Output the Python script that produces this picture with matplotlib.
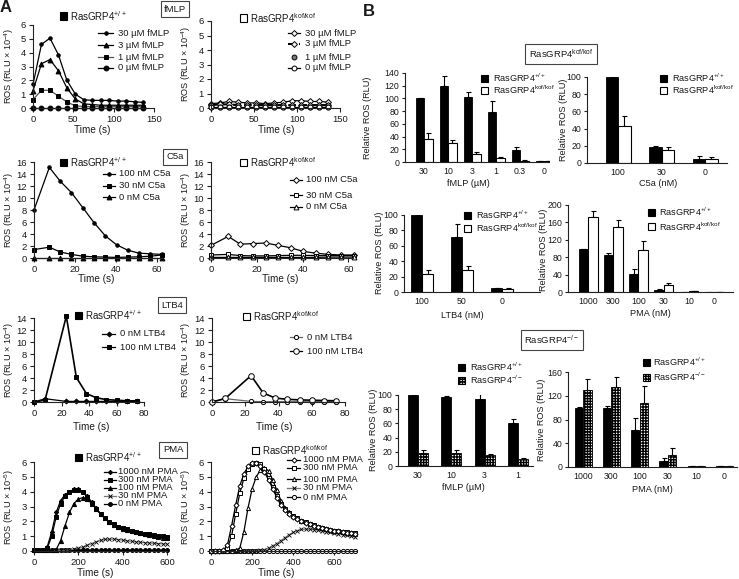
import numpy as np
import matplotlib
matplotlib.use('Agg')
import matplotlib.pyplot as plt
from matplotlib.patches import Rectangle
from matplotlib.lines import Line2D

plt.rcParams['font.family'] = ['Liberation Sans', 'DejaVu Sans']
plt.rcParams['mathtext.fontset'] = 'custom'
plt.rcParams['mathtext.rm'] = 'Liberation Sans'
plt.rcParams['mathtext.it'] = 'Liberation Sans:italic'
plt.rcParams['mathtext.bf'] = 'Liberation Sans:bold'
plt.rcParams['mathtext.default'] = 'regular'
plt.rcParams['hatch.linewidth'] = 1.0

# ---------------- data: panel A (time courses) ----------------
t_fmlp = [0, 10.5, 21, 31.5, 42, 52.5, 63, 73.5, 84, 94.5, 105, 115.5, 126, 136.5]
fmlp_wt_30 = [1.7, 4.6, 5.05, 3.85, 2.0, 1.0, 0.6, 0.55, 0.55, 0.55, 0.5, 0.5, 0.45, 0.4]
fmlp_wt_3 = [1.25, 3.2, 3.5, 2.7, 1.45, 0.65, 0.3, 0.25, 0.2, 0.2, 0.2, 0.2, 0.2, 0.2]
fmlp_wt_1 = [0.6, 1.28, 1.28, 0.85, 0.44, 0.15, 0.12, 0.1, 0.1, 0.1, 0.1, 0.1, 0.1, 0.1]
fmlp_wt_0 = [0.02, 0.02, 0.02, 0.02, 0.02, 0.02, 0.02, 0.02, 0.02, 0.02, 0.02, 0.02, 0.02, 0.02]
fmlp_kof_30 = [0.3, 0.35, 0.45, 0.4, 0.35, 0.35, 0.3, 0.35, 0.4, 0.5, 0.5, 0.45, 0.45, 0.4]
fmlp_kof_3 = [0.2, 0.25, 0.25, 0.2, 0.2, 0.2, 0.2, 0.2, 0.2, 0.2, 0.2, 0.2, 0.2, 0.2]
fmlp_kof_1 = [0.1, 0.1, 0.1, 0.1, 0.1, 0.1, 0.1, 0.1, 0.1, 0.1, 0.1, 0.1, 0.1, 0.1]
fmlp_kof_0 = [0.05, 0.05, 0.05, 0.05, 0.05, 0.05, 0.05, 0.05, 0.05, 0.05, 0.05, 0.05, 0.05, 0.05]

t_c5a = [0, 7.5, 12.8, 18.3, 23.8, 29.3, 34.8, 40.3, 45.8, 51.3, 56.8, 62.3]
c5a_wt_100 = [8.0, 15.1, 12.8, 10.9, 8.4, 5.9, 3.7, 2.2, 1.3, 0.8, 0.7, 0.6]
c5a_wt_30 = [1.4, 1.8, 1.0, 0.6, 0.3, 0.2, 0.15, 0.1, 0.15, 0.2, 0.3, 0.5]
c5a_wt_0 = [0.05, 0.05, 0.05, 0.05, 0.05, 0.05, 0.05, 0.05, 0.05, 0.05, 0.05, 0.05]
c5a_kof_100 = [2.1, 3.6, 2.3, 2.4, 2.5, 2.1, 1.7, 1.1, 0.8, 0.6, 0.5, 0.5]
c5a_kof_30 = [0.5, 0.6, 0.4, 0.35, 0.35, 0.4, 0.45, 0.45, 0.4, 0.4, 0.4, 0.4]
c5a_kof_0 = [0.1, 0.1, 0.1, 0.1, 0.1, 0.1, 0.1, 0.1, 0.1, 0.15, 0.15, 0.15]

t_ltb4 = [0, 8, 23.5, 30.8, 38.1, 45.4, 52.7, 60, 67.3, 74.6]
ltb4_wt_0 = [0, 0.55, 0.1, 0.1, 0.1, 0.1, 0.1, 0.1, 0.1, 0.1]
ltb4_wt_100 = [0, 0.3, 14.3, 4.1, 1.4, 0.7, 0.4, 0.3, 0.2, 0.2]
ltb4_kof_0 = [0, 0.55, 0.1, 0.05, 0.05, 0.05, 0.05, 0.05, 0.05, 0.05]
ltb4_kof_100 = [0, 0.6, 4.4, 1.5, 0.65, 0.45, 0.35, 0.3, 0.25, 0.2]

t_pma_wt = [0, 20, 40, 60, 80, 100, 120, 140, 160, 180, 200, 220, 240, 260, 280, 300,
            320, 340, 360, 380, 400, 420, 440, 460, 480, 500, 520, 540, 560, 580, 600]
pma_wt_1000 = [0.05, 0.05, 0.05, 0.3, 1.3, 2.6, 3.4, 3.8, 4.0, 4.15, 4.15, 4.0, 3.7, 3.3, 2.9, 2.5,
               2.2, 1.98, 1.8, 1.65, 1.52, 1.42, 1.33, 1.26, 1.2, 1.14, 1.09, 1.05, 1.01, 0.98, 0.95]
pma_wt_300 = [0.05, 0.05, 0.05, 0.2, 1.0, 2.3, 3.2, 3.7, 4.0, 4.1, 4.1, 3.95, 3.65, 3.25, 2.85, 2.5,
              2.2, 1.97, 1.8, 1.65, 1.55, 1.45, 1.37, 1.3, 1.23, 1.17, 1.12, 1.07, 1.03, 0.99, 0.92]
pma_wt_100 = [0.05, 0.05, 0.05, 0.05, 0.05, 0.1, 0.7, 1.7, 2.6, 3.2, 3.5, 3.6, 3.5, 3.2, 2.85, 2.5,
              2.2, 1.95, 1.78, 1.62, 1.5, 1.4, 1.32, 1.25, 1.18, 1.12, 1.06, 1.01, 0.96, 0.9, 0.85]
pma_wt_30 = [0.05, 0.05, 0.05, 0.05, 0.05, 0.05, 0.05, 0.05, 0.08, 0.12, 0.18, 0.27, 0.38, 0.5, 0.62, 0.72,
             0.78, 0.8, 0.8, 0.77, 0.73, 0.69, 0.65, 0.62, 0.59, 0.56, 0.54, 0.52, 0.5, 0.48, 0.47]
pma_wt_0 = [0.05, 0.05, 0.05, 0.05, 0.05, 0.05, 0.05, 0.05, 0.05, 0.05, 0.05, 0.05, 0.05, 0.05, 0.05, 0.05,
            0.05, 0.05, 0.05, 0.05, 0.05, 0.05, 0.05, 0.05, 0.05, 0.05, 0.05, 0.05, 0.05, 0.05, 0.05]

t_pma_kof = [0, 20, 40, 60, 80, 100, 120, 140, 160, 180, 200, 220, 240, 260, 280, 300, 320, 340,
             360, 380, 400, 420, 440, 460, 480, 500, 520, 540, 560, 580, 600, 620, 640, 660, 680, 700]
pma_kof_1000 = [0.02, 0.02, 0.02, 0.05, 0.4, 1.7, 3.1, 4.4, 5.2, 5.7, 5.95, 5.95, 5.7, 5.3, 4.8, 4.2, 3.6, 3.1,
                2.75, 2.5, 2.3, 2.15, 2.0, 1.9, 1.8, 1.7, 1.62, 1.55, 1.48, 1.42, 1.37, 1.32, 1.28, 1.24, 1.2, 1.17]
pma_kof_300 = [0.02, 0.02, 0.02, 0.03, 0.2, 1.0, 2.5, 3.9, 4.9, 5.5, 5.85, 5.95, 5.85, 5.5, 4.9, 4.3, 3.7, 3.2,
               2.8, 2.55, 2.35, 2.2, 2.05, 1.93, 1.82, 1.73, 1.65, 1.57, 1.5, 1.44, 1.38, 1.33, 1.29, 1.25, 1.21, 1.18]
pma_kof_100 = [0.02, 0.02, 0.02, 0.02, 0.02, 0.02, 0.05, 0.2, 1.3, 2.9, 4.2, 5.0, 5.45, 5.6, 5.4, 4.8, 4.1, 3.4,
               2.9, 2.6, 2.35, 2.2, 2.05, 1.93, 1.82, 1.72, 1.64, 1.56, 1.49, 1.43, 1.37, 1.32, 1.27, 1.23, 1.19, 1.15]
pma_kof_30 = [0.02, 0.02, 0.02, 0.02, 0.02, 0.02, 0.02, 0.02, 0.02, 0.02, 0.02, 0.02, 0.05, 0.1, 0.2, 0.35, 0.5, 0.7,
              0.9, 1.1, 1.25, 1.38, 1.45, 1.48, 1.47, 1.44, 1.4, 1.35, 1.3, 1.25, 1.2, 1.15, 1.1, 1.05, 1.0, 0.95]
pma_kof_0 = [0.02, 0.02, 0.02, 0.02, 0.02, 0.02, 0.02, 0.02, 0.02, 0.02, 0.02, 0.02, 0.02, 0.02, 0.02, 0.02, 0.02, 0.02,
             0.02, 0.02, 0.02, 0.02, 0.02, 0.02, 0.02, 0.02, 0.02, 0.02, 0.02, 0.02, 0.02, 0.02, 0.02, 0.02, 0.02, 0.02]

# ---------------- data: panel B (bars) ----------------
b1_cats = ['30', '10', '3', '1', '0.3', '0']
b1_wt = [100, 120, 102, 79, 19, 1]
b1_wt_err = [0, 15, 8, 17, 5, 0]
b1_kof = [36, 30, 13, 7, 2, 1]
b1_kof_err = [10, 5, 2, 1, 1, 0]

b2_cats = ['100', '30', '0']
b2_wt = [100, 19, 5]
b2_wt_err = [0, 1, 3]
b2_kof = [43, 15, 5]
b2_kof_err = [12, 4, 2]

b3_cats = ['100', '50', '0']
b3_wt = [100, 72, 5]
b3_wt_err = [1, 16, 0]
b3_kof = [24, 28, 4]
b3_kof_err = [4, 6, 1]

b4_cats = ['1000', '300', '100', '30', '10', '0']
b4_wt = [98, 85, 42, 5, 1, 0.5]
b4_wt_err = [2, 5, 12, 3, 0, 0]
b4_kof = [172, 150, 96, 15, 1.5, 0.5]
b4_kof_err = [15, 15, 22, 5, 0, 0]

b5_cats = ['30', '10', '3', '1']
b5_wt = [100, 97, 95, 61]
b5_wt_err = [0, 2, 6, 5]
b5_ko = [19, 18, 16, 10]
b5_ko_err = [4, 4, 1, 1]

b6_cats = ['1000', '300', '100', '30', '10', '0']
b6_wt = [100, 100, 63, 10, 2, 1]
b6_wt_err = [1, 3, 20, 5, 0, 0]
b6_ko = [130, 134, 108, 20, 2, 1]
b6_ko_err = [18, 18, 28, 12, 0, 0]

# ---------------- figure helpers ----------------
W, H = 739, 579
TXT = '#1a1a1a'
fig = plt.figure(figsize=(W / 100, H / 100), dpi=100)


def fx(x):
    return x / W


def fy(y):
    return 1 - y / H


def make_ax(x0, x1, ytop, ybot, labelsize=6.8, pad=2.2, length=3):
    ax = fig.add_axes([fx(x0), fy(ybot), (x1 - x0) / W, (ybot - ytop) / H])
    for s in ['top', 'right']:
        ax.spines[s].set_visible(False)
    for s in ['left', 'bottom']:
        ax.spines[s].set_linewidth(0.8)
        ax.spines[s].set_color('#222')
    ax.tick_params(direction='out', length=length, width=0.8, labelsize=labelsize, pad=pad,
                   colors='#222', labelcolor=TXT)
    ax.patch.set_visible(False)
    return ax


def ftext(x, y, s, **kw):
    kw.setdefault('fontsize', 7.2)
    kw.setdefault('color', TXT)
    kw.setdefault('ha', 'center')
    kw.setdefault('va', 'center')
    fig.text(fx(x), fy(y), s, **kw)


def square(x, y, fc, size=7, hatch=None):
    r = Rectangle((fx(x), fy(y + size / 2)), size / W, size / H, transform=fig.transFigure,
                  fc=fc, ec='k', lw=0.8, hatch=hatch)
    fig.add_artist(r)


def leg_title(x, y, text, fc, hatch=None, tx=None, fs=7.0):
    square(x, y, fc, hatch=hatch)
    ftext(tx if tx is not None else x + 10, y, text, ha='left', fontsize=fs)


def leg_entry(x0, x1, y, text, tx, marker, mfc, ms=3.5, ls='-', lw=0.9, lc='k'):
    if ls != 'none':
        fig.add_artist(Line2D([fx(x0), fx(x1)], [fy(y), fy(y)], color=lc, lw=lw, ls=ls))
    fig.add_artist(Line2D([fx((x0 + x1) / 2)], [fy(y)], marker=marker, mfc=mfc, mec='k',
                          mew=0.7, ms=ms, ls='none'))
    ftext(tx, y, text, ha='left', fontsize=6.8)


def boxed(x, y, text):
    ftext(x, y, text, fontsize=6.8,
          bbox=dict(boxstyle='square,pad=0.35', fc='white', ec='#444', lw=0.8))


def series(ax, t, y, marker, mfc, ms=3.5, ls='-', lw=0.9, lc='k', mew=0.7):
    ax.plot(t, y, color=lc, lw=lw, ls=ls, marker=marker, mfc=mfc, mec='k', mew=mew, ms=ms,
            clip_on=False)


ros4 = r'ROS (RLU $\times$ 10$^{-4}$)'
ros5 = r'ROS (RLU $\times$ 10$^{-5}$)'
WT = r'RasGRP4$^{+/+}$'
KOF = r'RasGRP4$^{kof/kof}$'
KO = r'RasGRP4$^{-/-}$'
YL_L, YL_R, YFS = 9, 186, 6.6

ftext(6, 8, 'A', fontsize=12, fontweight='bold')
ftext(369, 11, 'B', fontsize=12, fontweight='bold')

# ---------------- A row 1: fMLP ----------------
ax = make_ax(33, 154, 25, 108)
series(ax, t_fmlp, fmlp_wt_30, 'o', 'k', ms=2.5)
series(ax, t_fmlp, fmlp_wt_3, '^', 'k', ms=3.5)
series(ax, t_fmlp, fmlp_wt_1, 's', 'k', ms=3.5, lc='#555')
series(ax, t_fmlp, fmlp_wt_0, 'o', 'k', ms=3.5)
ax.set_xlim(0, 150); ax.set_ylim(0, 6)
ax.set_xticks([0, 50, 100, 150]); ax.set_yticks(range(0, 7))
ftext(92, 130, 'Time (s)')
ftext(YL_L, 66, ros4, rotation=90, fontsize=YFS)
leg_title(60, 16, WT, 'k')
leg_entry(98, 113, 33, '30 µM fMLP', 118, 'o', 'k', ms=2.5)
leg_entry(98, 113, 45, '3 µM fMLP', 118, '^', 'k')
leg_entry(98, 113, 57, '1 µM fMLP', 118, 's', 'k', lc='#555')
leg_entry(98, 113, 68, '0 µM fMLP', 118, 'o', 'k')
boxed(175, 9, 'fMLP')

ax = make_ax(211, 340, 21, 108)
series(ax, t_fmlp, fmlp_kof_30, 'D', 'white', ms=3)
series(ax, t_fmlp, fmlp_kof_3, 'D', 'white', ms=3, ls='--', lw=1.5)
series(ax, t_fmlp, fmlp_kof_1, 'o', '#777', ms=3.5, ls='none')
series(ax, t_fmlp, fmlp_kof_0, 'o', 'white', ms=3.5)
ax.set_xlim(0, 150); ax.set_ylim(0, 6)
ax.set_xticks([0, 50, 100, 150]); ax.set_yticks(range(0, 7))
ftext(276, 130, 'Time (s)')
ftext(YL_R, 64, ros4, rotation=90, fontsize=YFS)
leg_title(240, 18, KOF, 'white')
leg_entry(288, 300, 33, '30 µM fMLP', 305, 'D', 'white', ms=3)
leg_entry(288, 300, 44, '3 µM fMLP', 305, 'D', 'white', ms=3, ls='--', lw=1.5)
leg_entry(288, 300, 57, '1 µM fMLP', 305, 'o', '#777', ls='none')
leg_entry(288, 300, 68, '0 µM fMLP', 305, 'o', 'white')

# ---------------- A row 2: C5a ----------------
ax = make_ax(34, 163, 162, 258)
series(ax, t_c5a, c5a_wt_100, 'o', 'k', ms=2.5)
series(ax, t_c5a, c5a_wt_30, 's', 'k', ms=3.5)
series(ax, t_c5a, c5a_wt_0, '^', 'k', ms=3.5)
ax.set_xlim(0, 63); ax.set_ylim(0, 16)
ax.set_xticks([0, 20, 40, 60]); ax.set_yticks(range(0, 17, 2))
ftext(96, 279, 'Time (s)')
ftext(YL_L, 210, ros4, rotation=90, fontsize=YFS)
leg_title(60, 162, WT, 'k')
leg_entry(103, 115, 174, '100 nM C5a', 119, 'o', 'k', ms=2.5)
leg_entry(103, 115, 186, '30 nM C5a', 119, 's', 'k')
leg_entry(103, 115, 197, '0 nM C5a', 119, '^', 'k')
boxed(175, 157, 'C5a')

ax = make_ax(211, 353, 162, 258)
series(ax, t_c5a, c5a_kof_100, 'D', 'white', ms=3)
series(ax, t_c5a, c5a_kof_30, 's', 'white', ms=3.5)
series(ax, t_c5a, c5a_kof_0, '^', 'white', ms=3.5)
ax.set_xlim(0, 62); ax.set_ylim(0, 16)
ax.set_xticks([0, 20, 40, 60]); ax.set_yticks(range(0, 17, 2))
ftext(280, 279, 'Time (s)')
ftext(YL_R, 210, ros4, rotation=90, fontsize=YFS)
leg_title(240, 162, KOF, 'white')
leg_entry(290, 302, 180, '100 nM C5a', 306, 'D', 'white', ms=3)
leg_entry(290, 302, 195, '30 nM C5a', 306, 's', 'white')
leg_entry(290, 302, 207, '0 nM C5a', 306, '^', 'white')

# ---------------- A row 3: LTB4 ----------------
ax = make_ax(34, 144, 318, 402)
series(ax, t_ltb4, ltb4_wt_0, 'D', 'k', ms=2.5)
series(ax, t_ltb4, ltb4_wt_100, 's', 'k', ms=3.5, lw=1.2)
ax.set_xlim(0, 80); ax.set_ylim(0, 14)
ax.set_xticks([0, 20, 40, 60, 80]); ax.set_yticks(range(0, 15, 2))
ftext(91, 427, 'Time (s)')
ftext(YL_L, 360, ros4, rotation=90, fontsize=YFS)
leg_title(75, 315, WT, 'k')
leg_entry(102, 115, 334, '0 nM LTB4', 120, 'D', 'k', ms=2.5)
leg_entry(102, 115, 347, '100 nM LTB4', 120, 's', 'k')
boxed(172, 305, 'LTB4')

ax = make_ax(212, 345, 318, 402)
series(ax, t_ltb4, ltb4_kof_0, 'o', 'white', ms=3, lc='#666')
series(ax, t_ltb4, ltb4_kof_100, 'o', 'white', ms=4, lw=1.2)
ax.set_xlim(0, 80); ax.set_ylim(0, 14)
ax.set_xticks([0, 20, 40, 60, 80]); ax.set_yticks(range(0, 15, 2))
ftext(274, 427, 'Time (s)')
ftext(YL_R, 360, ros4, rotation=90, fontsize=YFS)
leg_title(243, 316, KOF, 'white')
leg_entry(290, 302, 337, '0 nM LTB4', 307, 'o', 'white', ms=3, lc='#666')
leg_entry(290, 302, 351, '100 nM LTB4', 307, 'o', 'white', ms=4)

# ---------------- A row 4: PMA ----------------
ax = make_ax(34, 167, 462, 551)
series(ax, t_pma_wt, pma_wt_0, 'o', 'k', ms=2.8)
series(ax, t_pma_wt, pma_wt_30, 'x', 'none', ms=3, lc='#777', mew=0.6)
series(ax, t_pma_wt, pma_wt_100, '^', 'k', ms=3)
series(ax, t_pma_wt, pma_wt_300, 's', 'k', ms=3)
series(ax, t_pma_wt, pma_wt_1000, 'D', 'k', ms=2.2)
ax.set_xlim(0, 600); ax.set_ylim(0, 6)
ax.set_xticks([0, 200, 400, 600]); ax.set_yticks(range(0, 7))
ftext(95, 573, 'Time (s)')
ftext(YL_L, 507, ros5, rotation=90, fontsize=YFS)
leg_title(75, 457, WT, 'k')
leg_entry(104, 116, 472, '1000 nM PMA', 118, 'D', 'k', ms=2.2)
leg_entry(104, 116, 480, '300 nM PMA', 118, 's', 'k', ms=3)
leg_entry(104, 116, 488, '100 nM PMA', 118, '^', 'k', ms=3)
leg_entry(104, 116, 496, '30 nM PMA', 118, 'x', 'none', ms=3, lc='#777')
leg_entry(104, 116, 504, '0 nM PMA', 118, 'o', 'k', ms=2.8)
boxed(173, 450, 'PMA')

ax = make_ax(211, 357, 462, 551)
series(ax, t_pma_kof, pma_kof_0, 'o', 'white', ms=3)
series(ax, t_pma_kof, pma_kof_30, 'x', 'none', ms=3, lc='#777', mew=0.6)
series(ax, t_pma_kof, pma_kof_100, '^', 'white', ms=3)
series(ax, t_pma_kof, pma_kof_300, 's', 'white', ms=3.2)
series(ax, t_pma_kof, pma_kof_1000, 'D', 'white', ms=2.6)
ax.set_xlim(0, 710); ax.set_ylim(0, 6)
ax.set_xticks([0, 200, 400, 600]); ax.set_yticks(range(0, 7))
ftext(276, 573, 'Time (s)')
ftext(YL_R, 507, ros5, rotation=90, fontsize=YFS)
leg_title(252, 450, KOF, 'white')
leg_entry(287, 300, 460, '1000 nM PMA', 303, 'D', 'white', ms=2.6)
leg_entry(287, 300, 468, '300 nM PMA', 303, 's', 'white', ms=3.2)
leg_entry(287, 300, 479, '100 nM PMA', 303, '^', 'white', ms=3)
leg_entry(287, 300, 488, '30 nM PMA', 303, 'x', 'none', ms=3, lc='#777')
leg_entry(287, 300, 497, '0 nM PMA', 303, 'o', 'white', ms=3)


# ---------------- panel B ----------------
def bar_panel(x0, x1, ytop, ybot, c0, step, bw, cats, v1, e1, v2, e2, ymax, ystep, ko=False):
    # c0: pixel centre of first group; step: pixel spacing between groups; bw: bar width px
    lo = (x0 - c0) / step
    hi = (x1 - c0) / step
    ax = make_ax(x0, x1, ytop, ybot, labelsize=6.3, pad=1.5, length=2.5)
    pos = np.arange(len(cats))
    w = bw / step
    ax.bar(pos - w / 2, v1, w, color='k', ec='k', lw=0.6, zorder=2)
    if ko:
        ax.bar(pos + w / 2, v2, w, color='white', ec='k', lw=0.6, hatch='++++++', zorder=2)
    else:
        ax.bar(pos + w / 2, v2, w, color='white', ec='k', lw=0.8, zorder=2)
    z = np.zeros(len(cats))
    ax.errorbar(pos - w / 2, v1, yerr=[z, e1], fmt='none', ecolor='k', elinewidth=0.8,
                capsize=1.8, capthick=0.8, zorder=1)
    ax.errorbar(pos + w / 2, v2, yerr=[z, e2], fmt='none', ecolor='k', elinewidth=0.8,
                capsize=1.8, capthick=0.8, zorder=1)
    ax.set_xlim(lo, hi)
    ax.set_ylim(0, ymax)
    ax.set_yticks(np.arange(0, ymax + 1, ystep))
    ax.set_xticks(pos)
    ax.set_xticklabels(cats)
    ax.tick_params(axis='x', length=0, pad=3.5)
    return ax


BFS = 6.6

bar_panel(405, 549, 73, 162, 424, 24, 8.5, b1_cats, b1_wt, b1_wt_err, b1_kof, b1_kof_err, 140, 20)
ftext(468, 183, 'fMLP (µM)', fontsize=BFS)
ftext(367, 118, 'Relative ROS (RLU)', rotation=90, fontsize=BFS)
leg_title(481, 78, WT, 'k', tx=493, fs=BFS)
leg_title(481, 90, KOF, 'white', tx=493, fs=BFS)

bar_panel(587, 727, 77, 163, 618, 43.5, 12.5, b2_cats, b2_wt, b2_wt_err, b2_kof, b2_kof_err, 100, 20)
ftext(658, 183, 'C5a (nM)', fontsize=BFS)
ftext(564, 120, 'Relative ROS (RLU)', rotation=90, fontsize=BFS)
leg_title(660, 78, WT, 'k', tx=672, fs=BFS)
leg_title(660, 90, KOF, 'white', tx=672, fs=BFS)
boxed(561, 54, KOF)

bar_panel(404, 540, 215, 292, 422, 40, 11, b3_cats, b3_wt, b3_wt_err, b3_kof, b3_kof_err, 100, 20)
ftext(462, 315, 'LTB4 (nM)', fontsize=BFS)
ftext(379, 253, 'Relative ROS (RLU)', rotation=90, fontsize=BFS)
leg_title(464, 215, WT, 'k', tx=476, fs=BFS)
leg_title(464, 228, KOF, 'white', tx=476, fs=BFS)

bar_panel(568, 733, 205, 292, 588, 25.2, 9.5, b4_cats, b4_wt, b4_wt_err, b4_kof, b4_kof_err, 200, 40)
ftext(650, 313, 'PMA (nM)', fontsize=BFS)
ftext(543, 250, 'Relative ROS (RLU)', rotation=90, fontsize=BFS)
leg_title(648, 212, WT, 'k', tx=659, fs=BFS)
leg_title(648, 227, KOF, 'white', tx=659, fs=BFS)

bar_panel(398, 533, 395, 466, 418, 33.3, 10, b5_cats, b5_wt, b5_wt_err, b5_ko, b5_ko_err, 100, 20, ko=True)
ftext(463, 488, 'fMLP (µM)', fontsize=BFS)
ftext(373, 430, 'Relative ROS (RLU)', rotation=90, fontsize=BFS)
leg_title(458, 367, WT, 'k', tx=470, fs=BFS)
leg_title(458, 380, KO, 'white', hatch='++++++', tx=470, fs=BFS)
boxed(552, 340, KO)

bar_panel(568, 737, 372, 467, 583, 28.3, 8.5, b6_cats, b6_wt, b6_wt_err, b6_ko, b6_ko_err, 160, 40, ko=True)
ftext(652, 490, 'PMA (nM)', fontsize=BFS)
ftext(541, 420, 'Relative ROS (RLU)', rotation=90, fontsize=BFS)
leg_title(643, 362, WT, 'k', tx=653, fs=BFS)
leg_title(643, 377, KO, 'white', hatch='++++++', tx=653, fs=BFS)

fig.savefig('out.png', dpi=100)
